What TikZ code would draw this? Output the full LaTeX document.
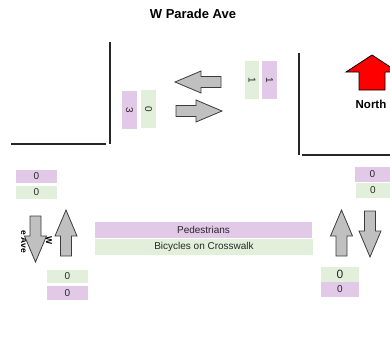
\documentclass[tikz,border=0pt]{standalone}
\usepackage{fontspec}
\setmainfont{Liberation Sans}
\usepackage{tikz}
\usetikzlibrary{positioning}
\definecolor{pedpurple}{RGB}{226,201,232}
\definecolor{bikegreen}{RGB}{226,239,218}
\definecolor{arrowgray}{RGB}{192,192,192}
\definecolor{edgegray}{RGB}{60,60,60}
\definecolor{textgray}{RGB}{40,40,40}

\tikzset{
  count/.style={inner sep=0pt, text=textgray, font=\fontsize{10}{11}\selectfont},
  ped/.style={count, fill=pedpurple},
  bike/.style={count, fill=bikegreen},
  flow/.style={fill=arrowgray, draw=edgegray, line width=0.8pt},
  curb/.style={draw=black!85, line width=1.1pt}
}

\begin{document}
\begin{tikzpicture}[x=1pt, y=-1pt]
  \clip (0,0) rectangle (390,343);

  % Street name
  \node[font=\fontsize{13}{15}\selectfont\bfseries] (street) at (193,14) {W Parade Ave};

  % Curbs
  \draw[curb] (110,42) -- (110,144);
  \draw[curb] (11,144) -- (106,144);
  \draw[curb] (299,53) -- (299,155);
  \draw[curb] (302,155) -- (390,155);

  % North arrow
  \draw[fill=red, draw=black, line width=0.8pt]
    (372,55) -- (398,72) -- (385,72) -- (385,90) -- (359,90) -- (359,72) -- (346,72) -- cycle;
  \node[font=\fontsize{11.5}{13}\selectfont\bfseries] (north) at (371,104) {North};

  % Side street name (mostly hidden)
  \node[rotate=-90, font=\fontsize{8.5}{9}\selectfont\bfseries] (sideW) at (49,241) {W};
  \node[rotate=-90, font=\fontsize{8.5}{9}\selectfont\bfseries] (sideAve) at (24,242) {e Ave};

  % Flow arrows
  \foreach \x/\y/\a in {175/82/180, 222/111/0, 35.5/262/-90, 66/210/90, 341.5/210/90, 370/257/-90}
    \draw[flow, shift={(\x,\y)}, rotate=\a]
      (0,0) -- (-26,11) -- (-26,5.5) -- (-46,5.5) -- (-46,-5.5) -- (-26,-5.5) -- (-26,-11) -- cycle;

  % Counts on W Parade Ave
  \node[ped, rotate=-90, minimum width=38pt, minimum height=15pt] (ebPed) at (129.5,110) {3};
  \node[bike, rotate=-90, minimum width=38pt, minimum height=15pt] (ebBike) at (148.5,109) {0};
  \node[bike, rotate=-90, minimum width=38pt, minimum height=14pt] (wbBike) at (252,80) {1};
  \node[ped, rotate=-90, minimum width=38pt, minimum height=15pt] (wbPed) at (269.5,80) {1};

  % Counts on the left
  \node[ped, minimum width=41pt, minimum height=13pt] (sbPed) at (36.5,176.5) {0};
  \node[bike, minimum width=41pt, minimum height=13pt] (sbBike) at (36.5,192.5) {0};
  \node[bike, minimum width=41pt, minimum height=13pt] (nbBike) at (67.5,276.5) {0};
  \node[ped, minimum width=41pt, minimum height=14pt] (nbPed) at (67.5,293) {0};

  % Counts on the right
  \node[ped, minimum width=35pt, minimum height=15pt] (sbPedR) at (372.5,174.5) {0};
  \node[bike, minimum width=34pt, minimum height=15pt] (sbBikeR) at (373,190.5) {0};
  \node[bike, minimum width=38pt, minimum height=15pt, font=\fontsize{12}{13}\selectfont] (nbBikeR) at (340,274) {0};
  \node[ped, minimum width=38pt, minimum height=15pt] (nbPedR) at (340,289.5) {0};

  % Legend
  \node[ped, minimum width=217pt, minimum height=16pt, font=\fontsize{10}{11}\selectfont] (legPed) at (203.5,230) {Pedestrians};
  \node[bike, minimum width=218pt, minimum height=16pt, font=\fontsize{10}{11}\selectfont] (legBike) at (204,247) {Bicycles on Crosswalk};
\end{tikzpicture}
\end{document}
